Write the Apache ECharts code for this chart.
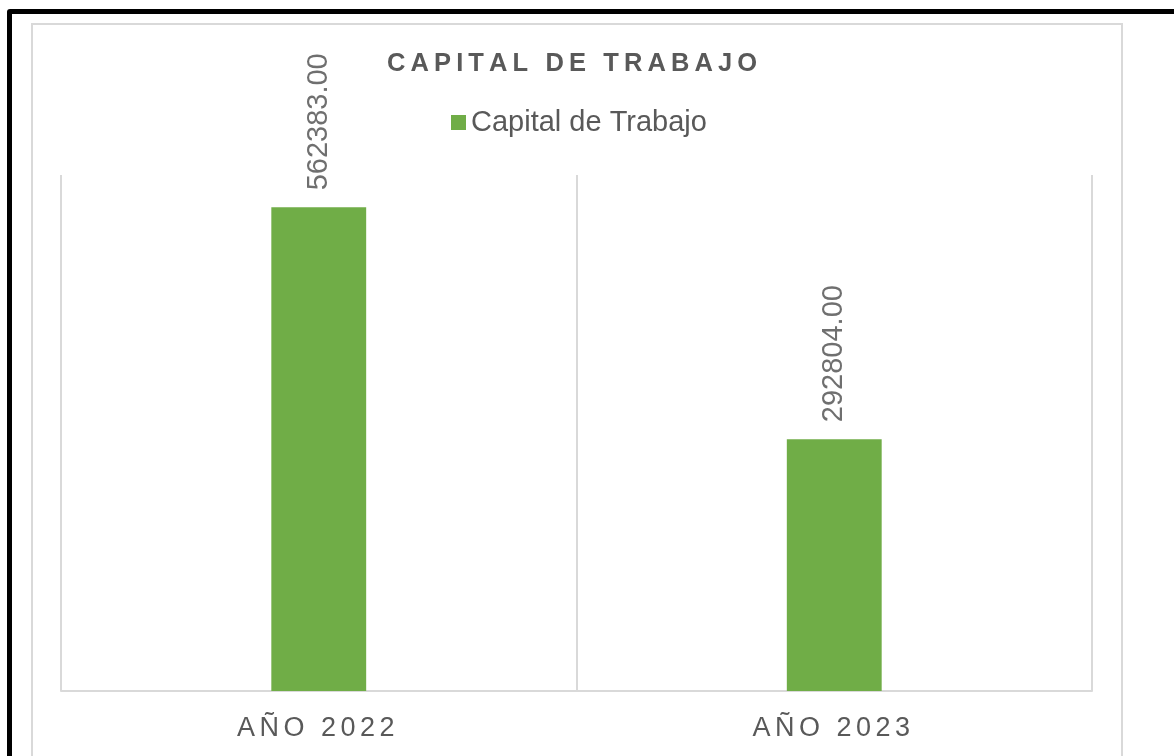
<!DOCTYPE html>
<html>
<head>
<meta charset="utf-8">
<script src="https://cdn.jsdelivr.net/npm/echarts@6/dist/echarts.min.js"></script>
<style>
  html, body { margin: 0; padding: 0; background: #fff; overflow: hidden; }
  #outer { position: absolute; left: 7px; top: 9px; width: 1300px; height: 900px; border: 5px solid #000; border-radius: 3px; box-sizing: border-box; }
  #inner { position: absolute; left: 31px; top: 23px; width: 1092px; height: 900px; border: 2px solid #d9d9d9; box-sizing: border-box; }
  #chart { position: absolute; left: 0; top: 0; width: 1174px; height: 756px; }
</style>
</head>
<body>
<div id="outer"></div>
<div id="inner"></div>
<div id="chart"></div>
<script>
const chartTitle = 'CAPITAL DE TRABAJO';
const seriesName = 'Capital de Trabajo';
const categories = ['AÑO 2022', 'AÑO 2023'];
const values = [562383, 292804];

function spaced(s, sep) { return s.split('').join(sep); }

const chart = echarts.init(document.getElementById('chart'), null, { renderer: 'canvas' });
chart.setOption({
  backgroundColor: 'transparent',
  animation: false,
  title: {
    text: spaced(chartTitle, '\u2009'),
    left: 382,
    top: 46,
    textStyle: { fontFamily: 'Liberation Sans', fontSize: 25.5, fontWeight: 'bold', color: '#595959' }
  },
  legend: {
    data: [seriesName],
    left: 446,
    top: 103,
    icon: 'rect',
    itemWidth: 15,
    itemHeight: 15,
    itemGap: 6,
    textStyle: { fontFamily: 'Liberation Sans', fontSize: 29, color: '#595959' }
  },
  grid: { left: 61, right: 82, top: 175, bottom: 65, containLabel: false },
  xAxis: {
    type: 'category',
    data: categories,
    axisLine: { show: true, lineStyle: { color: '#d9d9d9', width: 2 } },
    axisTick: { show: false },
    splitLine: { show: true, lineStyle: { color: '#d9d9d9', width: 2 } },
    axisLabel: {
      fontFamily: 'Liberation Sans', fontSize: 27, color: '#595959', margin: 24,
      padding: [0, 6, 0, 0],
      formatter: v => spaced(v, '\u2006')
    }
  },
  yAxis: {
    type: 'value',
    min: 0,
    max: 600000,
    show: false,
    splitLine: { show: false }
  },
  series: [{
    name: seriesName,
    type: 'bar',
    data: values,
    barWidth: '18.4%',
    itemStyle: { color: '#70ad47' },
    label: {
      show: true,
      position: 'top',
      rotate: 90,
      align: 'left',
      verticalAlign: 'middle',
      distance: 17,
      fontFamily: 'Liberation Sans',
      fontSize: 29,
      color: '#6f6f6f',
      formatter: p => p.value.toFixed(2)
    }
  }]
});
</script>
</body>
</html>
